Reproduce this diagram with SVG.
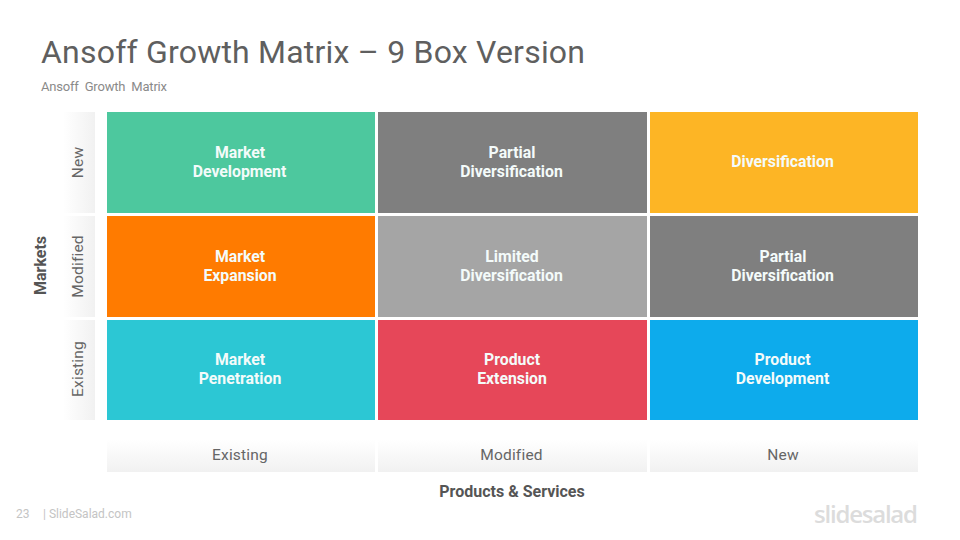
<svg xmlns="http://www.w3.org/2000/svg" width="960" height="540" viewBox="0 0 960 540">
<style>
text{font-family:Roboto,"Liberation Sans",sans-serif}
.c{font-size:15.8px;font-weight:700;fill:#f4fbfa;text-anchor:middle}
.a{font-size:15.5px;letter-spacing:.2px;fill:#666;text-anchor:middle}
.h{font-size:16px;font-weight:700;fill:#555;text-anchor:middle}
</style>
<defs>
<linearGradient id="gs" x1="0" y1="0" x2="1" y2="0"><stop offset="0" stop-color="#fff"/><stop offset="1" stop-color="#f1f1f1"/></linearGradient>
<linearGradient id="gb" x1="0" y1="0" x2="0" y2="1"><stop offset="0" stop-color="#fff"/><stop offset="1" stop-color="#f1f1f1"/></linearGradient>
</defs>
<rect width="960" height="540" fill="#fff"/>
<text x="41" y="63" font-size="32" fill="#5f5f5f" textLength="544">Ansoff Growth Matrix – 9 Box Version</text>
<text x="41" y="91" font-size="13" fill="#8a8a8a" word-spacing="3" textLength="126">Ansoff Growth Matrix</text>
<g id="axis-side">
<rect x="63" y="112" width="32" height="101" fill="url(#gs)"/>
<rect x="63" y="216" width="32" height="101" fill="url(#gs)"/>
<rect x="63" y="320" width="32" height="100" fill="url(#gs)"/>
<text class="a" transform="translate(82.500 162.500) rotate(-90)">New</text>
<text class="a" transform="translate(82.500 266.500) rotate(-90)">Modified</text>
<text class="a" transform="translate(82.500 369) rotate(-90)">Existing</text>
<text class="h" transform="translate(46 265.500) rotate(-90)">Markets</text>
</g>
<g id="axis-bottom">
<rect x="107" y="440" width="268" height="32" fill="url(#gb)"/>
<rect x="378" y="440" width="269" height="32" fill="url(#gb)"/>
<rect x="650" y="440" width="268" height="32" fill="url(#gb)"/>
<text class="a" x="240" y="460">Existing</text>
<text class="a" x="511.500" y="460">Modified</text>
<text class="a" x="783" y="460">New</text>
<text class="h" x="512" y="496.500">Products &amp; Services</text>
</g>
<g id="n1"><rect x="107" y="112" width="268" height="101" fill="#4dc89e"/><text class="c" x="240" y="158">Market</text><text class="c" x="239.500" y="177">Development</text></g>
<g id="n2"><rect x="378" y="112" width="269" height="101" fill="#7f7f7f"/><text class="c" x="512" y="158">Partial</text><text class="c" x="511.500" y="177">Diversification</text></g>
<g id="n3"><rect x="650" y="112" width="268" height="101" fill="#fdb525"/><text class="c" x="782.500" y="167">Diversification</text></g>
<g id="n4"><rect x="107" y="216" width="268" height="101" fill="#ff7b00"/><text class="c" x="240" y="262">Market</text><text class="c" x="240" y="281">Expansion</text></g>
<g id="n5"><rect x="378" y="216" width="269" height="101" fill="#a5a5a5"/><text class="c" x="512" y="262">Limited</text><text class="c" x="511.500" y="281">Diversification</text></g>
<g id="n6"><rect x="650" y="216" width="268" height="101" fill="#7f7f7f"/><text class="c" x="783" y="262">Partial</text><text class="c" x="782.500" y="281">Diversification</text></g>
<g id="n7"><rect x="107" y="320" width="268" height="100" fill="#2cc7d4"/><text class="c" x="240" y="365">Market</text><text class="c" x="240" y="384">Penetration</text></g>
<g id="n8"><rect x="378" y="320" width="269" height="100" fill="#e64759"/><text class="c" x="512" y="365">Product</text><text class="c" x="512" y="384">Extension</text></g>
<g id="n9"><rect x="650" y="320" width="268" height="100" fill="#0dabec"/><text class="c" x="782.500" y="365">Product</text><text class="c" x="782.500" y="384">Development</text></g>
<g id="connectors"></g>
<text x="16" y="518" font-size="12" fill="#c4c4c4">23</text>
<text x="43" y="518" font-size="12" fill="#c4c4c4">| SlideSalad.com</text>
<text x="814" y="523" font-size="24" font-weight="600" fill="#dcdcdc" style="font-family:'Open Sans',sans-serif" textLength="104">slidesalad</text>
</svg>
